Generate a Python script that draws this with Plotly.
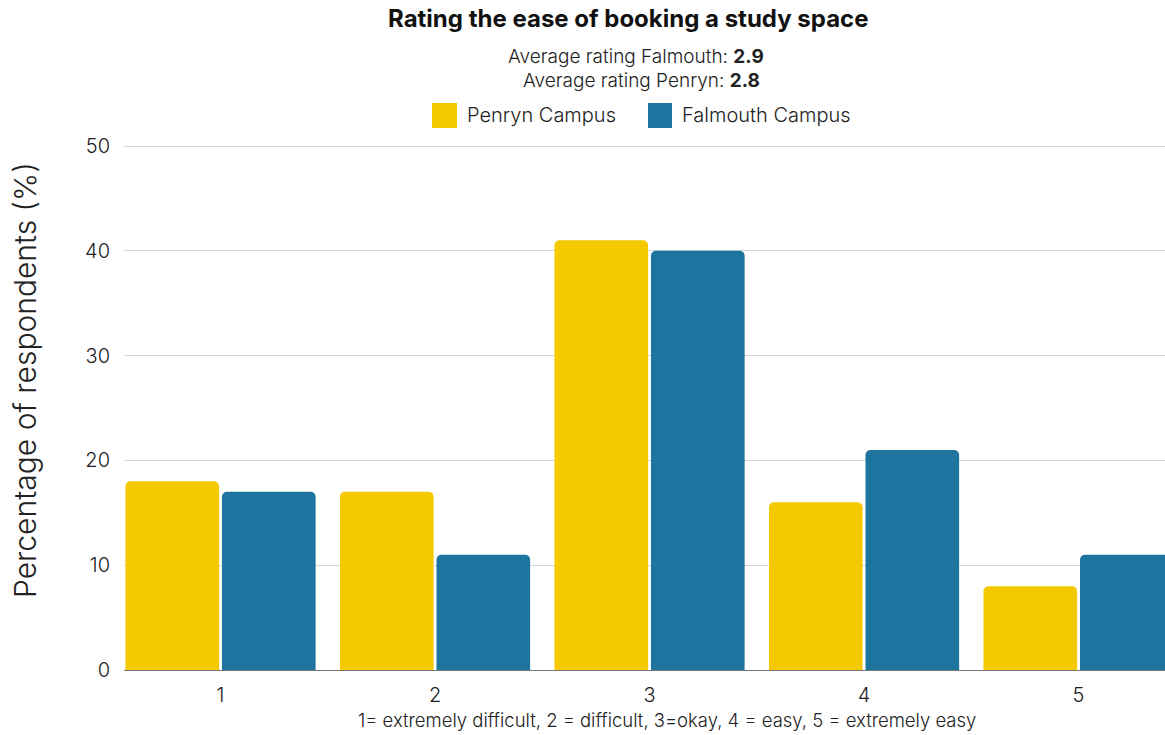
import plotly.graph_objects as go

ratings = [1, 2, 3, 4, 5]
rating_labels = ["1", "2", "3", "4", "5"]
penryn_pct = [18, 17, 41, 16, 8]
falmouth_pct = [17, 11, 40, 21, 11]
avg_falmouth = 2.9
avg_penryn = 2.8

YELLOW = "#F5C900"
BLUE = "#1D749E"
FONT = "Inter"
TXT = "#222222"

W, H = 1165, 735
ML, MR, MT, MB = 124, 0, 143, 65
PW = W - ML - MR
PH = H - MT - MB

fig = go.Figure()
fig.add_trace(go.Bar(x=ratings, y=penryn_pct, name="Penryn Campus",
                     marker=dict(color=YELLOW, line=dict(width=0))))
fig.add_trace(go.Bar(x=ratings, y=falmouth_pct, name="Falmouth Campus",
                     marker=dict(color=BLUE, line=dict(width=0))))

def px_x(p):
    return (p - ML) / PW

def px_y(p):
    return (H - MB - p) / PH

def light(size):
    return dict(size=size, color=TXT, family=FONT, weight=300)

annotations = [
    dict(text="<b>Rating the ease of booking a study space</b>", x=px_x(628), y=px_y(19),
         xref="paper", yref="paper", showarrow=False, xanchor="center", yanchor="middle",
         font=dict(size=24, color="#111111", family=FONT, weight=400)),
    dict(text=f"Average rating Falmouth: <b>{avg_falmouth}</b>", x=px_x(636), y=px_y(56),
         xref="paper", yref="paper", showarrow=False, xanchor="center", yanchor="middle",
         font=light(19)),
    dict(text=f"Average rating Penryn: <b>{avg_penryn}</b>", x=px_x(641), y=px_y(81),
         xref="paper", yref="paper", showarrow=False, xanchor="center", yanchor="middle",
         font=light(19)),
    dict(text="Penryn Campus", x=px_x(465), y=px_y(115),
         xref="paper", yref="paper", showarrow=False, xanchor="left", yanchor="middle",
         font=light(20)),
    dict(text="Falmouth Campus", x=px_x(680), y=px_y(115),
         xref="paper", yref="paper", showarrow=False, xanchor="left", yanchor="middle",
         font=light(20)),
    dict(text="Percentage of respondents (%)", x=px_x(25), y=px_y(380),
         xref="paper", yref="paper", showarrow=False, xanchor="center", yanchor="middle",
         textangle=-90, font=light(30)),
    dict(text="1= extremely difficult, 2 = difficult, 3=okay, 4 = easy, 5 = extremely easy",
         x=px_x(667), y=px_y(720), xref="paper", yref="paper", showarrow=False,
         xanchor="center", yanchor="middle", font=light(18.5)),
]

shapes = [
    dict(type="rect", xref="paper", yref="paper", x0=px_x(432), x1=px_x(457),
         y0=px_y(128), y1=px_y(103), fillcolor=YELLOW, line=dict(width=0)),
    dict(type="rect", xref="paper", yref="paper", x0=px_x(648), x1=px_x(672),
         y0=px_y(128), y1=px_y(103), fillcolor=BLUE, line=dict(width=0)),
]

fig.update_layout(
    width=W, height=H, autosize=False,
    margin=dict(l=ML, r=MR, t=MT, b=MB, pad=0),
    paper_bgcolor="white", plot_bgcolor="white",
    barmode="group", bargap=0.10, bargroupgap=0.03, barcornerradius=5,
    showlegend=False,
    font=dict(family=FONT, color="#333333"),
    annotations=annotations, shapes=shapes,
)
fig.update_xaxes(
    range=[0.55, 5.403], tickmode="array", tickvals=ratings, ticktext=rating_labels,
    showgrid=False, showline=True, linecolor="#777777", linewidth=1,
    ticks="", ticklabelstandoff=7,
    tickfont=light(20),
)
fig.update_yaxes(
    range=[0, 50.29], tickvals=[0, 10, 20, 30, 40, 50], showgrid=True,
    gridcolor="#D6D6D6", gridwidth=1,
    zeroline=False, showline=False, ticks="", ticklabelstandoff=13,
    tickfont=light(20),
)

fig.write_html("out.html")
